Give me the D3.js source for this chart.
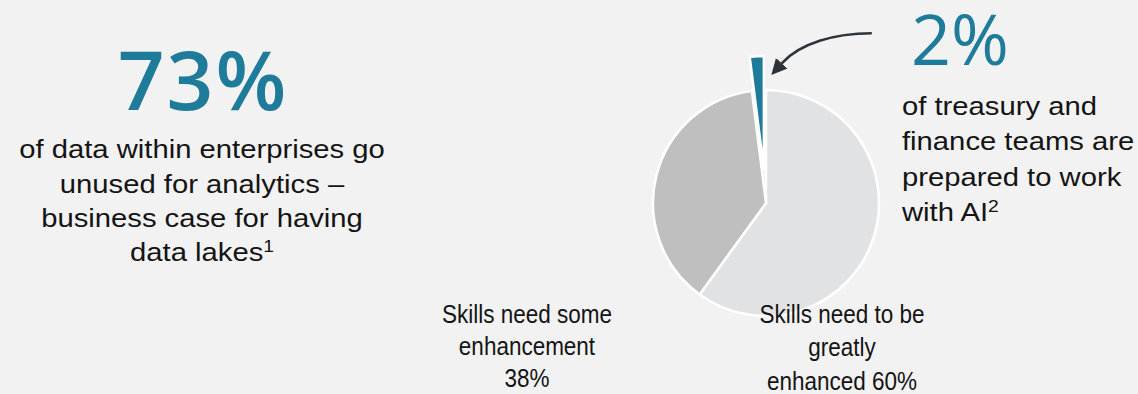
<!DOCTYPE html>
<html>
<head>
<meta charset="utf-8">
<script src="https://cdn.jsdelivr.net/npm/d3@7"></script>
<style>
  html, body { margin: 0; padding: 0; background: #f2f2f2; }
</style>
</head>
<body>
<div id="chart"></div>
<script>
// headline stats
const leftStat = "73%";
const leftStatLines = ["of data within enterprises go", "unused for analytics –", "business case for having", "data lakes"];
const leftStatNote = "1";
const rightStat = "2%";
const rightStatLines = ["of treasury and", "finance teams are", "prepared to work", "with AI"];
const rightStatNote = "2";

// pie slices, clockwise from 12 o'clock
const segments = ["Skills need to be greatly enhanced", "Skills need some enhancement", "Prepared to work with AI"];
const shares = [60, 38, 2];
const explodedSegment = "Prepared to work with AI";

// slice labels
const someLabelLines = ["Skills need some", "enhancement", "38%"];
const greatLabelLines = ["Skills need to be", "greatly", "enhanced 60%"];

const layout = {
    width: 1138,
    height: 394,
    pieX: 766,
    pieY: 203,
    radius: 113,
    explode: 34,
    teal: "#1e7b9a",
    ink: "#141414",
    bodySize: 25,
    bodyFont: "'Liberation Sans', Arial, sans-serif",
    statFont: "'Open Sans', sans-serif"
};

let svg = d3.select("#chart").append("svg")
    .attr("width", layout.width)
    .attr("height", layout.height)
    .attr("viewBox", [0, 0, layout.width, layout.height].join(" "));

svg.append("rect")
    .attr("width", layout.width)
    .attr("height", layout.height)
    .attr("fill", "#f2f2f2");

// pie
const color = d3.scaleOrdinal()
    .domain(segments)
    .range(["#e1e2e4", "#bfbfbf", layout.teal]);

const pie = d3.pie().sort(null).value(d => d.share);
const arcs = pie(segments.map((s, i) => ({name: s, share: shares[i]})));
const arc = d3.arc().innerRadius(0).outerRadius(layout.radius);

let pieGroup = svg.append("g")
    .attr("transform", `translate(${layout.pieX},${layout.pieY})`);

pieGroup.selectAll("path.slice")
    .data(arcs)
    .join("path")
    .attr("class", "slice")
    .attr("d", arc)
    .attr("fill", d => color(d.data.name))
    .attr("stroke", "white")
    .attr("stroke-width", 2.5)
    .attr("transform", d => {
        if (d.data.name !== explodedSegment) return null;
        const mid = (d.startAngle + d.endAngle) / 2;
        return `translate(${Math.sin(mid) * layout.explode},${-Math.cos(mid) * layout.explode})`;
    });

// arrow pointing at the exploded slice
const small = arcs.find(d => d.data.name === explodedSegment);
const smallMid = (small.startAngle + small.endAngle) / 2;
const outerX = Math.sin(smallMid) * (layout.radius + layout.explode);
const outerY = -Math.cos(smallMid) * (layout.radius + layout.explode);
const endX = outerX + 25, endY = outerY + 7;

svg.append("defs").append("marker")
    .attr("id", "head")
    .attr("viewBox", "0 0 10 10")
    .attr("refX", 0)
    .attr("refY", 5)
    .attr("markerWidth", 6)
    .attr("markerHeight", 6.4)
    .attr("markerUnits", "strokeWidth")
    .attr("orient", "auto")
    .append("path")
    .attr("d", "M0,0 L10,5 L0,10 Z")
    .attr("fill", "#2d3339");

pieGroup.append("path")
    .attr("d", `M${endX + 90},${endY - 30} C${endX + 53},${endY - 30} ${endX + 18},${endY - 20} ${endX},${endY}`)
    .attr("fill", "none")
    .attr("stroke", "#2d3339")
    .attr("stroke-width", 2.6)
    .attr("marker-end", "url(#head)");

// left stat
svg.append("text")
    .attr("x", 203)
    .attr("y", 110)
    .attr("text-anchor", "middle")
    .attr("font-family", layout.statFont)
    .attr("font-weight", 600)
    .attr("font-size", 82)
    .attr("letter-spacing", 2)
    .attr("fill", layout.teal)
    .text(leftStat);

let leftBlock = svg.append("g")
    .attr("transform", "translate(202,0) scale(1.17,1)");
leftStatLines.forEach((line, i) => {
    let t = leftBlock.append("text")
        .attr("x", 0)
        .attr("y", 158.5 + i * 34.3)
        .attr("text-anchor", "middle")
        .attr("font-family", layout.bodyFont)
        .attr("font-size", layout.bodySize)
        .attr("fill", layout.ink)
        .text(line);
    if (i === leftStatLines.length - 1) {
        t.append("tspan")
            .attr("font-size", 16.5)
            .attr("dy", -9)
            .text(leftStatNote);
    }
});

// right stat
svg.append("text")
    .attr("x", 911)
    .attr("y", 65)
    .attr("font-family", layout.statFont)
    .attr("font-weight", 400)
    .attr("font-size", 70)
    .attr("fill", layout.teal)
    .text(rightStat);

let rightBlock = svg.append("g")
    .attr("transform", "translate(902,0) scale(1.17,1)");
rightStatLines.forEach((line, i) => {
    let t = rightBlock.append("text")
        .attr("x", 0)
        .attr("y", 115 + i * 35.3)
        .attr("font-family", layout.bodyFont)
        .attr("font-size", layout.bodySize)
        .attr("fill", layout.ink)
        .text(line);
    if (i === rightStatLines.length - 1) {
        t.append("tspan")
            .attr("font-size", 16.5)
            .attr("dy", -9)
            .text(rightStatNote);
    }
});

// slice labels
function drawLabel(lines, cx, y0, step) {
    let g = svg.append("g")
        .attr("transform", `translate(${cx},0) scale(0.9,1)`);
    lines.forEach((line, i) => {
        g.append("text")
            .attr("x", 0)
            .attr("y", y0 + i * step)
            .attr("text-anchor", "middle")
            .attr("font-family", layout.bodyFont)
            .attr("font-size", layout.bodySize)
            .attr("fill", layout.ink)
            .text(line);
    });
}
drawLabel(someLabelLines, 527, 323, 32);
drawLabel(greatLabelLines, 842, 323, 33.5);
</script>
</body>
</html>
